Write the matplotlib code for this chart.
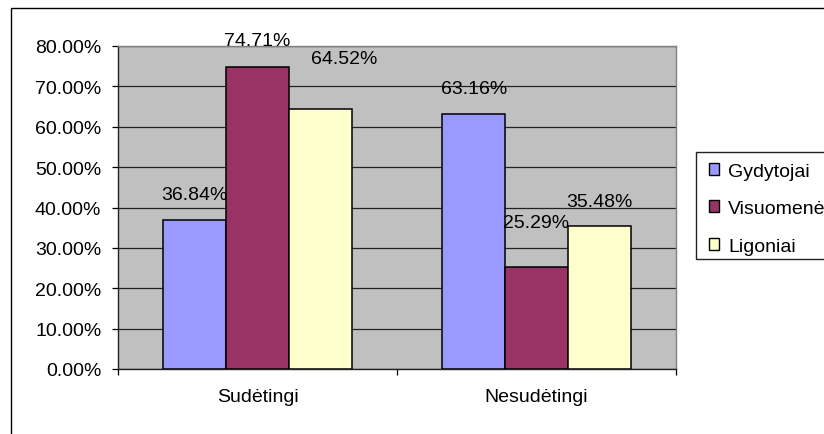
import numpy as np
import matplotlib
matplotlib.use("Agg")
import matplotlib.pyplot as plt
from matplotlib.patches import Rectangle

# data
categories = ["Sudėtingi", "Nesudėtingi"]
series_names = ["Gydytojai", "Visuomenė", "Ligoniai"]
gydytojai = [36.84, 63.16]
visuomene = [74.71, 25.29]
ligoniai = [64.52, 35.48]
y_ticks = [0, 10, 20, 30, 40, 50, 60, 70, 80]

colors = ["#9999FF", "#993366", "#FFFFCC"]
# label offsets in pixels (dx, dy) relative to bar top centre, as Excel placed them
label_offsets = [
    [(0, 26), (0, 25)],
    [(0, 27), (0, 44)],
    [(24, 50), (0, 24)],
]

plt.rcParams["font.family"] = ["Liberation Sans", "DejaVu Sans"]
FS = 14

fig = plt.figure(figsize=(8.24, 4.35), dpi=100)
ax = fig.add_axes([118 / 824, 1 - 370 / 435, 558 / 824, 323 / 435])
ax.set_facecolor("#C0C0C0")

x = np.arange(len(categories))
width = 0.225
values = [gydytojai, visuomene, ligoniai]
px = 72 / 100  # pixels -> points
for i, (name, vals) in enumerate(zip(series_names, values)):
    pos = x + (i - 1) * width
    ax.bar(pos, vals, width, color=colors[i], edgecolor="black",
           linewidth=1.1, label=name, zorder=3)
    for j, v in enumerate(vals):
        dx, dy = label_offsets[i][j]
        ax.annotate(f"{v:.2f}%", (pos[j], v), xytext=(dx * px, dy * px),
                    textcoords="offset points", ha="center", va="center",
                    fontsize=FS, zorder=5, annotation_clip=False)

ax.set_xlim(-0.5, len(categories) - 0.5)
ax.set_ylim(0, 80)
ax.set_yticks(y_ticks)
ax.set_yticklabels([f"{t:.2f}%" for t in y_ticks], fontsize=FS)
ax.yaxis.grid(True, color="#222222", linewidth=0.9, zorder=1)
ax.tick_params(axis="y", direction="out", length=4, width=0.9, pad=8)

# tick marks on category boundaries, labels at centres
ax.set_xticks(np.arange(len(categories) + 1) - 0.5)
ax.set_xticklabels([])
ax.tick_params(axis="x", which="major", direction="out", length=4, width=0.9)
ax.set_xticks(x, minor=True)
ax.set_xticklabels(categories, minor=True, fontsize=FS)
ax.tick_params(axis="x", which="minor", length=0, pad=14)

for side in ["top", "right"]:
    ax.spines[side].set_color("#808080")
    ax.spines[side].set_linewidth(1.0)
for side in ["left", "bottom"]:
    ax.spines[side].set_color("#222222")
    ax.spines[side].set_linewidth(1.0)

# legend, its box runs off the right edge like in the reference
leg = fig.legend(loc="upper left", bbox_to_anchor=(700 / 824, 1 - 155 / 435),
                 fontsize=FS, frameon=False, borderaxespad=0,
                 handlelength=0.55, handleheight=0.55, handletextpad=0.45,
                 labelspacing=1.05, borderpad=0.45)
for h in leg.legend_handles:
    h.set_linewidth(1.0)
fig.patches.append(Rectangle((696 / 824, 1 - 260 / 435), 0.5, 107 / 435,
                             transform=fig.transFigure, fill=False,
                             edgecolor="#222222", linewidth=1.0))

# outer chart border (right and bottom fall outside the image)
fig.patches.append(Rectangle((11 / 824, -0.1), 1.2, 1.1 - 9 / 435, transform=fig.transFigure,
                             fill=False, edgecolor="black", linewidth=1.0))

plt.savefig("out.png", dpi=100)
